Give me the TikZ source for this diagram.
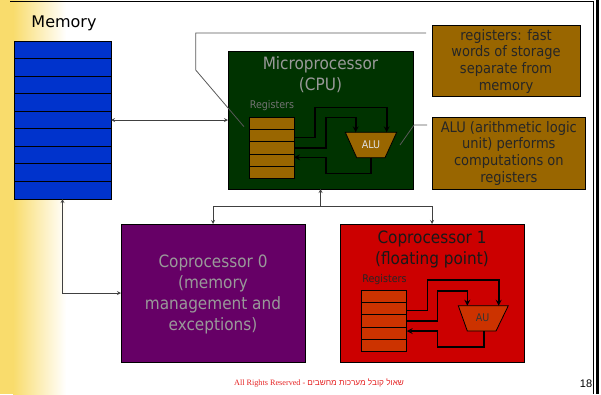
\documentclass[tikz,border=0pt]{standalone}
\usepackage{fontspec}
\setmainfont{DejaVu Sans Condensed}
\newfontfamily\memfont{DejaVu Sans}
\newfontfamily\serfont{Liberation Serif}
\newfontfamily\numfont{Liberation Sans}
\newfontfamily\hebfont[Script=Hebrew]{Liberation Sans}
\TeXXeTstate=1
\usetikzlibrary{arrows, positioning}
\tikzset{>=stealth}
\definecolor{memblue}{HTML}{0033CC}
\definecolor{cpugreen}{HTML}{003300}
\definecolor{regbrown}{HTML}{996600}
\definecolor{copurple}{HTML}{660066}
\definecolor{copred}{HTML}{CC0000}
\definecolor{regred}{HTML}{CC3300}
\definecolor{slideyellow}{HTML}{F9DC6C}
\definecolor{footred}{HTML}{E52222}
\tikzset{
  box/.style={draw=black, line width=0.8pt, inner sep=0pt, outer sep=0pt},
  wire/.style={line width=1.6pt, black},
  link/.style={draw=black!75, line width=0.8pt},
  pointer/.style={draw=black!65, line width=0.8pt},
  bigtext/.style={align=center, font=\fontsize{17}{20.7}\selectfont},
  notetext/.style={align=center, text=black!85, font=\fontsize{14.5}{16.7}\selectfont},
  smalltext/.style={font=\fontsize{10.6}{12}\selectfont}
}

\begin{document}
\begin{tikzpicture}[x=1pt, y=-1pt, >=stealth]

            \useasboundingbox (0,0) rectangle (601,394);
            % slide background
            \fill[slideyellow] (0,0) rectangle (13,394);
            \shade[left color=slideyellow, right color=white] (13,0) rectangle (66,394);
            \draw[line width=0.8pt] (10,1) -- (593.5,1) -- (593.5,394);
            \draw[line width=2.2pt] (597.5,0) -- (597.5,394);

            % memory
            \node (memlabel) at (64,23) {\memfont\fontsize{16}{18}\selectfont Memory};
            \node[box, fill=memblue, minimum width=97pt, minimum height=158pt] (mem) at (62.5,120) {};
            \foreach \i in {1,...,8}
                \draw[line width=0.8pt] (14,41+17.556*\i) -- (111,41+17.556*\i);

            % microprocessor
            \node[box, fill=cpugreen, minimum width=185pt, minimum height=138pt] (cpu) at (320.5,120) {};
            \node[bigtext, text=black!40] (cputitle) at (320.5,75) {Microprocessor\\(CPU)};
            \node[smalltext, text=black!55] (reglabel) at (272,106) {Registers};
            \node[box, fill=regbrown, minimum width=45pt, minimum height=61pt] (reg) at (271.5,147.8) {};
            \foreach \i in {1,...,4}
                \draw[line width=0.8pt] (249,117.3+12.2*\i) -- (294,117.3+12.2*\i);
            \draw[box, fill=regbrown] (345.3,132.3) -- (396.7,132.3) -- (385,157.7) -- (356.7,157.7) -- cycle;
            \node[smalltext, text=black!12] (alu) at (371,145) {ALU};
            \coordinate (aluA) at (355.7,132.3);
            \coordinate (aluB) at (386.7,132.3);
            \coordinate (aluO) at (371,157.7);
            \draw[wire, ->] ([yshift=10.5pt]reg.east) -| (315,107.3) -| (aluB);
            \draw[wire, ->] (reg.east) -| (325.7,117.3) -| (aluA);
            \draw[wire, ->] (aluO) |- (325.7,173.3) |- ([yshift=-9.5pt]reg.east);

            % coprocessor 0
            \node[box, fill=copurple, minimum width=184pt, minimum height=138pt] (cop0) at (213,293) {};
            \node[bigtext, text=black!40] (cop0title) at (213,294.5) {Coprocessor 0\\(memory\\management and\\exceptions)};

            % coprocessor 1
            \node[box, fill=copred, minimum width=184pt, minimum height=138pt] (cop1) at (432,293) {};
            \node[bigtext, text=black!90] (cop1title) at (432,249.5) {Coprocessor 1\\(floating point)};
            \node[smalltext, text=black!85] (reglabel1) at (384.5,280) {Registers};
            \node[box, fill=regred, minimum width=45.7pt, minimum height=61.7pt] (reg1) at (383.85,320.85) {};
            \foreach \i in {1,...,4}
                \draw[line width=0.8pt] (361,290+12.34*\i) -- (406.7,290+12.34*\i);
            \draw[box, fill=regred] (458.3,305.7) -- (508.3,305.7) -- (496,331) -- (467.3,331) -- cycle;
            \node[smalltext, text=black!80] (au) at (482.5,318) {AU};
            \coordinate (auA) at (467.3,305.7);
            \coordinate (auB) at (498.7,305.7);
            \coordinate (auO) at (484,331);
            \draw[wire, ->] ([yshift=10.2pt]reg1.east) -| (427.3,280) -| (auB);
            \draw[wire, ->] (reg1.east) -| (437.3,290.7) -| (auA);
            \draw[wire, ->] (auO) |- (437.3,346.7) |- ([yshift=-10.2pt]reg1.east);

            % connections
            \draw[link, <->] (mem) -- (cpu);
            \draw[link, <->] (mem.south) |- (cop0.west);
            \coordinate (bus) at (320.5,206);
            \draw[link, ->] (bus) -- (cpu.south);
            \draw[link, ->] (bus) -| (cop0.north);
            \draw[link, ->] (bus) -| (cop1.north);

            % notes
            \node[box, fill=regbrown, minimum width=148pt, minimum height=71pt] (note1) at (506,61.2) {};
            \node[notetext] (note1text) at (note1) {registers: fast\\words of storage\\separate from\\memory};
            \node[box, fill=regbrown, minimum width=153.7pt, minimum height=71.7pt] (note2) at (508.85,153.15) {};
            \node[notetext] (note2text) at (note2) {ALU (arithmetic logic\\unit) performs\\computations on\\registers};
            \coordinate (p1) at (426,33);
            \coordinate (p2) at (427,125);
            \draw[pointer] (p1) -- (195.7,33) -- (195.7,70) -- (244,126.7);
            \draw[pointer] (p2) -- (414,125) -- (400,145);

            % footer
            \node (footer) at (319,383) {\fontsize{8.2}{10}\selectfont\color{footred}{\serfont All Rights Reserved - }{\hebfont\beginR שאול קובל  מערכות מחשבים\endR}};
            \node (pagenum) at (586,384) {\numfont\fontsize{11}{12}\selectfont 18};
            \end{tikzpicture}
\end{document}
